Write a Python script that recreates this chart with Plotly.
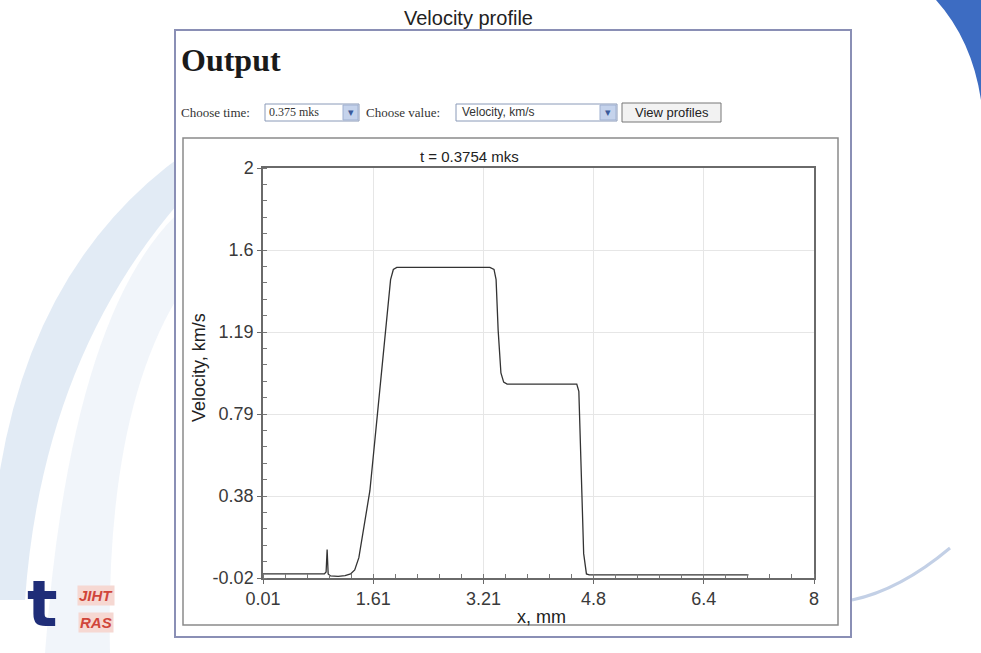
import plotly.graph_objects as go

# ---- data ----
x_mm = [0.01, 0.90, 0.925, 0.94, 0.955, 0.99, 1.10, 1.20, 1.28, 1.34, 1.40, 1.46, 1.51, 1.56,
        1.67, 1.78, 1.86, 1.90, 1.95, 3.30, 3.36, 3.39, 3.42, 3.46, 3.50, 3.55,
        4.56, 4.59, 4.62, 4.66, 4.70, 4.74, 7.05]
velocity = [0.0, 0.0, 0.01, 0.12, 0.0, -0.01, -0.012, -0.008, 0.0, 0.02, 0.08, 0.2, 0.31, 0.41,
            0.79, 1.19, 1.45, 1.50, 1.51, 1.51, 1.50, 1.45, 1.20, 0.99, 0.945, 0.935,
            0.935, 0.90, 0.50, 0.10, 0.0, -0.005, -0.005]

x_ticks = [0.01, 1.608, 3.206, 4.804, 6.402, 8.0]
x_tick_text = ["0.01", "1.61", "3.21", "4.8", "6.4", "8"]
y_ticks = [-0.02, 0.384, 0.788, 1.192, 1.596, 2.0]
y_tick_text = ["-0.02", "0.38", "0.79", "1.19", "1.6", "2"]

W, H = 981, 653
L, R, T, B = 263, 814, 168, 578


def px(X):
    return (X - L) / (R - L)


def py(Y):
    return (B - Y) / (B - T)


fig = go.Figure()
fig.add_trace(go.Scatter(x=x_mm, y=velocity, mode="lines",
                         line=dict(color="#333333", width=1.3), showlegend=False,
                         hoverinfo="skip"))

axis_common = dict(showline=True, linecolor="#6a6a6a", linewidth=1.5, mirror=True,
                   showgrid=True, gridcolor="#e6e6e6", gridwidth=1, zeroline=False,
                   ticks="outside", ticklen=4, tickcolor="#6a6a6a",
                   tickfont=dict(family="Liberation Sans, Arial", size=18, color="#3a3a3a"))

fig.update_xaxes(range=[0.01, 8.0], tickmode="array", tickvals=x_ticks, ticktext=x_tick_text,
                 minor=dict(tickmode="linear", tick0=0.01, dtick=0.3196, ticks="inside",
                            ticklen=4, tickcolor="#777777", showgrid=False),
                 **axis_common)
fig.update_yaxes(range=[-0.02, 2.0], tickmode="array", tickvals=y_ticks, ticktext=y_tick_text,
                 minor=dict(tickmode="linear", tick0=-0.02, dtick=0.0808, ticks="inside",
                            ticklen=4, tickcolor="#777777", showgrid=False),
                 **axis_common)

shapes = []
# background decorations (slide template)
shapes.append(dict(type="path", xref="paper", yref="paper", layer="below",
                   path="M {} {} Q {} {} {} {} L {} {} L {} {} Q {} {} {} {} Z".format(
                       px(230), py(125), px(40), py(230), px(0), py(470),
                       px(0), py(600), px(25), py(600), px(45), py(320), px(230), py(150)),
                   fillcolor="#dde7f3", line=dict(width=0), opacity=0.85))
shapes.append(dict(type="path", xref="paper", yref="paper", layer="below",
                   path="M {} {} Q {} {} {} {} L {} {} Q {} {} {} {} Z".format(
                       px(176), py(215), px(70), py(320), px(45), py(653),
                       px(110), py(653), px(105), py(420), px(176), py(300)),
                   fillcolor="#edf2f9", line=dict(width=0), opacity=0.8))
shapes.append(dict(type="path", xref="paper", yref="paper", layer="below",
                   path="M {} {} Q {} {} {} {} L {} {} Z".format(
                       px(936), py(0), px(972), py(40), px(981), py(100), px(981), py(0)),
                   fillcolor="#3d6cc2", line=dict(width=0)))
shapes.append(dict(type="path", xref="paper", yref="paper", layer="below",
                   path="M {} {} Q {} {} {} {}".format(
                       px(852), py(600), px(900), py(590), px(950), py(548)),
                   line=dict(color="#c3d0e6", width=3)))
# outer page frame
shapes.append(dict(type="rect", xref="paper", yref="paper", layer="below",
                   x0=px(175), x1=px(851), y0=py(30), y1=py(637),
                   fillcolor="white", line=dict(color="#8a8fb5", width=2)))
# inner chart frame
shapes.append(dict(type="rect", xref="paper", yref="paper", layer="below",
                   x0=px(183), x1=px(838), y0=py(138), y1=py(625),
                   fillcolor="white", line=dict(color="#8a8a8a", width=1.5)))
# select 1
shapes.append(dict(type="rect", xref="paper", yref="paper",
                   x0=px(265), x1=px(359), y0=py(104), y1=py(121),
                   fillcolor="white", line=dict(color="#8a9ab8", width=1)))
shapes.append(dict(type="rect", xref="paper", yref="paper",
                   x0=px(343), x1=px(358), y0=py(105), y1=py(120),
                   fillcolor="#c5d3ec", line=dict(color="#9fb0d0", width=1)))
# select 2
shapes.append(dict(type="rect", xref="paper", yref="paper",
                   x0=px(456), x1=px(617), y0=py(104), y1=py(121),
                   fillcolor="white", line=dict(color="#8a9ab8", width=1)))
shapes.append(dict(type="rect", xref="paper", yref="paper",
                   x0=px(600), x1=px(616), y0=py(105), y1=py(120),
                   fillcolor="#c5d3ec", line=dict(color="#9fb0d0", width=1)))
# button
shapes.append(dict(type="rect", xref="paper", yref="paper",
                   x0=px(622), x1=px(721), y0=py(103), y1=py(122),
                   fillcolor="#f2f2f2", line=dict(color="#777777", width=1)))

ann = []


def text(X, Y, s, size, family="Liberation Sans, Arial", color="#222222", xanchor="center",
         textangle=0, bg=None):
    d = dict(x=px(X), y=py(Y), xref="paper", yref="paper", text=s, showarrow=False,
             xanchor=xanchor, yanchor="middle", textangle=textangle,
             font=dict(family=family, size=size, color=color))
    if bg:
        d["bgcolor"] = bg
    ann.append(d)


serif = "Liberation Serif, Times New Roman"
text(468, 18, "Velocity profile", 20)
text(179, 60, "<b>Output</b>", 32, family=serif, color="#1a1a1a", xanchor="left")
text(179, 112, "Choose time:", 13, family=serif, color="#333333", xanchor="left")
text(267, 112, "0.375 mks", 12, family=serif, color="#333333", xanchor="left")
text(350.5, 112, "▾", 11, color="#3a5a9a")
text(364, 112, "Choose value:", 13, family=serif, color="#333333", xanchor="left")
text(460, 112, "Velocity, km/s", 12, family="Liberation Sans, Arial", color="#333333", xanchor="left")
text(608, 112, "▾", 11, color="#3a5a9a")
text(671.5, 112, "View profiles", 13, family="Liberation Sans, Arial", color="#222222")
text(469, 156, "t = 0.3754 mks", 15)
text(541, 617, "x, mm", 18)
text(199, 368, "Velocity, km/s", 18, textangle=-90)
# logo
text(42, 604, "<b>t</b>", 64, family="DejaVu Sans", color="#1f2d78")
text(96, 595, "<b><i>JIHT</i></b>", 15, color="#d0453a", bg="#f6d8d2")
text(96, 622, "<b><i>RAS</i></b>", 15, color="#d0453a", bg="#f6d8d2")

fig.update_layout(width=W, height=H, autosize=False,
                  margin=dict(l=L, r=W - R, t=T, b=H - B, pad=0),
                  paper_bgcolor="white", plot_bgcolor="white",
                  shapes=shapes, annotations=ann, showlegend=False)

fig.write_html("out.html", config={"displayModeBar": False},
               post_script="document.body.style.margin='0px';document.body.style.overflow='hidden';")
